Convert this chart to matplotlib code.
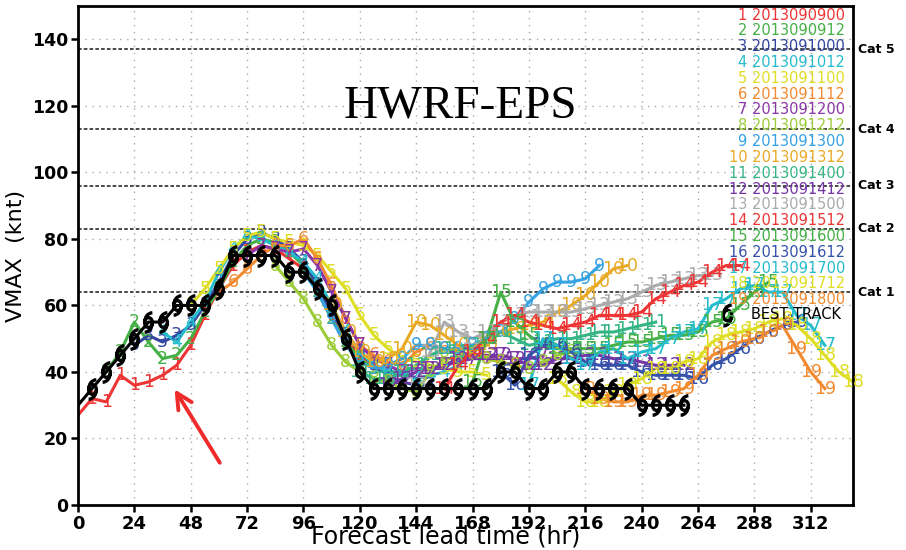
import matplotlib.pyplot as plt
import numpy as np
from matplotlib.path import Path
from matplotlib.transforms import Affine2D

# initial times (hr) of the 19 ensemble runs, output every 6 hr
init_hours = [0, 12, 24, 36, 48, 60, 72, 84, 96, 108, 120, 132, 144, 156, 168, 180, 192, 204, 216]
cycles = ['2013090900', '2013090912', '2013091000', '2013091012', '2013091100',
          '2013091112', '2013091200', '2013091212', '2013091300', '2013091312',
          '2013091400', '2013091412', '2013091500', '2013091512', '2013091600',
          '2013091612', '2013091700', '2013091712', '2013091800']
colors = ['#ee3535', '#45b045', '#3346a0', '#25bccb', '#dede25', '#f28a30', '#8a35a5',
          '#9ccc38', '#35a2e2', '#e8aa25', '#35b585', '#7435a5', '#ababab', '#ee3535',
          '#45b045', '#3552ab', '#25bccb', '#dede25', '#f28a30']

# VMAX (knt) every 6 hr from each run's initial time
vmax = [
    [27, 32, 31, 39, 36, 37, 39, 42, 48, 57, 65, 72, 76, 78, 77, 74, 71, 65, 57, 50, 45, 42],
    [40, 46, 55, 49, 44, 45, 50, 58, 65, 73, 78, 80, 79, 76, 72, 64, 56, 49, 44, 41, 40, 40],
    [48, 51, 49, 51, 54, 60, 67, 75, 80, 82, 80, 77, 73, 66, 58, 51, 46, 42, 39, 37, 36, 36],
    [52, 49, 55, 61, 70, 77, 81, 80, 78, 76, 73, 68, 60, 52, 46, 42, 40, 40, 38, 39, 40, 42],
    [60, 65, 71, 77, 81, 82, 80, 79, 78, 75, 70, 65, 57, 51, 47, 44, 43, 42, 41, 40, 40, 39],
    [64, 67, 71, 75, 78, 78, 80, 74, 66, 56, 48, 45, 43, 42, 46, 48, 47, 46, 45, 44, 43, 42],
    [75, 78, 77, 76, 77, 72, 64, 56, 48, 44, 42, 40, 41, 41, 42, 43, 44, 44, 45, 44, 44, 45],
    [72, 67, 62, 55, 48, 43, 40, 38, 37, 35, 34, 40, 44, 44, 45, 44, 43, 42, 41, 43, 45, 46],
    [70, 64, 56, 48, 43, 41, 42, 44, 48, 48, 47, 47, 48, 50, 52, 56, 61, 65, 67, 67, 68, 72],
    [60, 52, 46, 43, 44, 47, 55, 54, 51, 48, 46, 48, 52, 53, 54, 55, 58, 60, 63, 67, 71, 72],
    [40, 38, 38, 40, 42, 45, 47, 46, 48, 50, 52, 50, 48, 49, 50, 50, 51, 52, 52, 53, 54, 55],
    [36, 38, 40, 41, 42, 44, 45, 45, 45, 44, 42, 42, 44, 44, 45, 45, 44, 44, 43, 42, 42, 42],
    [36, 46, 55, 52, 50, 52, 55, 57, 58, 58, 58, 58, 59, 60, 61, 62, 64, 66, 67, 68, 69, 69],
    [35, 42, 46, 50, 55, 57, 55, 54, 53, 54, 55, 57, 57, 57, 58, 62, 64, 66, 67, 70, 72, 72],
    [37, 50, 64, 55, 51, 48, 47, 47, 47, 47, 48, 49, 49, 50, 51, 51, 52, 55, 56, 60, 64, 67],
    [40, 36, 45, 48, 48, 46, 43, 42, 42, 42, 40, 39, 39, 39, 38, 42, 44, 47, 50, 52, 54, 55],
    [36, 50, 48, 44, 42, 46, 47, 44, 46, 47, 50, 52, 53, 60, 62, 65, 66, 64, 64, 57, 54, 48],
    [38, 34, 31, 31, 34, 36, 38, 41, 41, 43, 44, 49, 51, 52, 53, 55, 56, 54, 50, 45, 40, 37],
    [35, 32, 31, 31, 33, 33, 34, 35, 39, 45, 47, 49, 50, 52, 54, 47, 40, 35],
]

# best track, every 6 hr from 0 hr
bt_vmax = [30, 35, 40, 45, 50, 55, 55, 60, 60, 60, 65, 75, 75, 75, 75, 70, 70, 65, 60, 50,
           40, 35, 35, 35, 35, 35, 35, 35, 35, 35, 40, 40, 35, 35, 40, 40, 35, 35, 35, 35,
           30, 30, 30, 30]

cat_levels = [64, 83, 96, 113, 137]
cat_names = ['Cat 1', 'Cat 2', 'Cat 3', 'Cat 4', 'Cat 5']

# hurricane symbol used for best track: small ring, tail up-right and down-left
ring = Path.circle((0, 0), 0.33)
upper = Path.arc(90, 180).transformed(Affine2D().scale(0.66).translate(0.33, 0))
lower = Path.arc(270, 360).transformed(Affine2D().scale(0.66).translate(-0.33, 0))
hurricane = Path.make_compound_path(ring, upper, lower).transformed(Affine2D().scale(0.8, 1))

fig = plt.figure(figsize=(9.06, 5.5), dpi=100)
ax = fig.add_axes([0.0861, 0.0818, 0.8554, 0.9072])

for lev in cat_levels:
    ax.axhline(lev, color='#3a3a3a', ls=(0, (2, 1.2)), lw=1.3, zorder=1)
    ax.text(1.006, lev, cat_names[cat_levels.index(lev)], transform=ax.get_yaxis_transform(),
            fontsize=9, fontweight='bold', va='center', ha='left')

for i in range(len(vmax)):
    hrs = init_hours[i] + 6 * np.arange(len(vmax[i]))
    ax.plot(hrs, vmax[i], '-', color=colors[i], lw=2.2, zorder=2)
    for h, v in zip(hrs, vmax[i]):
        if h > 0:
            ax.text(h, v, str(i + 1), color=colors[i], fontsize=12.5, ha='center', va='center',
                    zorder=3, clip_on=False)

bt_hrs = 6 * np.arange(len(bt_vmax))
ax.plot(bt_hrs, bt_vmax, '-', color='k', lw=2.2, zorder=4)
ax.plot(bt_hrs[1:], bt_vmax[1:], ls='none', marker=hurricane, ms=14, mfc='none', mec='k',
        mew=2.4, zorder=5)

# run legend in the upper right
for i in range(len(cycles)):
    ax.text(0.9897, 0.982 - 0.0317 * i, '%d %s' % (i + 1, cycles[i]), color=colors[i],
            transform=ax.transAxes, fontsize=10.5, ha='right', va='center')
ax.plot([0.837], [0.381], transform=ax.transAxes, marker=hurricane, ms=15, mfc='none',
        mec='k', mew=2.4, clip_on=False)
ax.text(0.984, 0.381, 'BEST TRACK', transform=ax.transAxes, fontsize=10.5, ha='right',
        va='center', color='k')

ax.text(163, 120, 'HWRF-EPS', fontsize=34, family='Liberation Serif', ha='center', va='center')

ax.annotate('', xy=(40.5, 35.5), xytext=(61, 12),
            arrowprops=dict(arrowstyle='->', color='#ee2a2a', lw=2.8, mutation_scale=28))

ax.set_xlim(0, 330)
ax.set_ylim(0, 150)
ax.set_xticks(np.arange(0, 313, 24))
ax.set_yticks(np.arange(0, 141, 20))
ax.grid(True, color='#a8a8a8', ls=(0, (1, 4)), lw=1)
ax.set_axisbelow(True)
for s in ax.spines.values():
    s.set_linewidth(2)
ax.tick_params(direction='out', length=5, width=1.8, pad=2)
for lab in ax.get_xticklabels():
    lab.set_fontweight('bold')
    lab.set_fontsize(13)
for lab in ax.get_yticklabels():
    lab.set_fontweight('bold')
    lab.set_fontsize(12.5)
ax.set_xlabel('Forecast lead time (hr)', fontsize=17)
ax.xaxis.set_label_coords(0.475, -0.077)
ax.xaxis.label.set_va('baseline')
ax.set_ylabel('VMAX  (knt)', fontsize=16, labelpad=4)

fig.savefig('out.png', dpi=100)
